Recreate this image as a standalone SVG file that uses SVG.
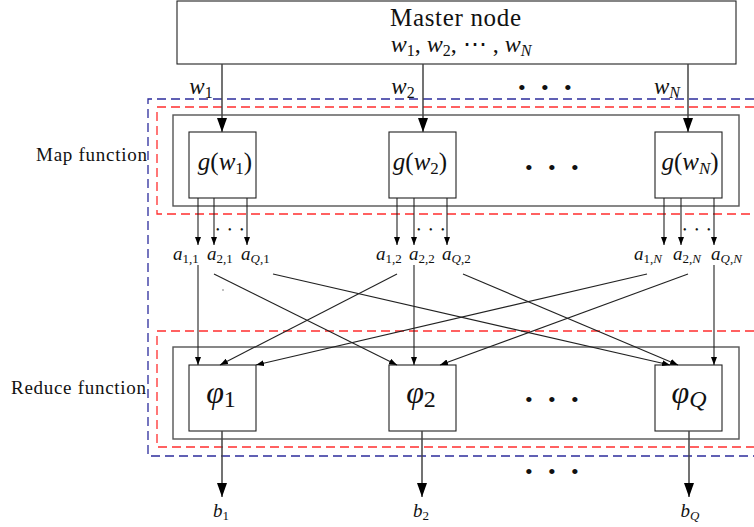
<svg xmlns="http://www.w3.org/2000/svg" width="754" height="527" viewBox="0 0 754 527">
<defs>
<style>
text{font-family:"Liberation Serif","Times New Roman",serif;fill:#111}
.i{font-style:italic}
.box{fill:#fff;stroke:#222;stroke-width:1.1}
.outer{fill:none;stroke:#555;stroke-width:1.4}
.ln{stroke:#222;stroke-width:1.1;fill:none}
.thick{stroke:#444;stroke-width:1.5;fill:none}
.blue{stroke:#2c2c9c;stroke-width:1.3;fill:none;stroke-dasharray:9 5}
.red{stroke:#ff2e2e;stroke-width:1.3;fill:none;stroke-dasharray:9 5}
.dots{font-size:22px;letter-spacing:15.3px}
.sdots{font-size:10px;letter-spacing:8.5px}
.al{font-size:19px}
.as{font-size:13px}
</style>
<marker id="big" markerUnits="userSpaceOnUse" markerWidth="14" markerHeight="10" refX="14" refY="5" orient="auto"><path d="M0,0 L14,5 L0,10 z" fill="#000"/></marker>
<marker id="sm" markerUnits="userSpaceOnUse" markerWidth="8" markerHeight="6" refX="8" refY="3" orient="auto"><path d="M0,0 L8,3 L0,6 z" fill="#000"/></marker>
</defs>
<rect width="754" height="527" fill="#fff"/>

<g id="regions">
<path class="blue" d="M754,99 H148 V456 H754"/>
<path class="red" d="M754,107 H157 V214 H754"/>
<path class="red" d="M754,331 H157 V447 H754"/>
</g>

<g id="master">
<rect class="box" x="177" y="1" width="559" height="63"/>
<text x="390" y="26" font-size="25" textLength="131" lengthAdjust="spacing">Master node</text>
<text x="461" y="52" font-size="24" text-anchor="middle"><tspan class="i">w</tspan><tspan font-size="16" dy="4">1</tspan><tspan dy="-4">, </tspan><tspan class="i">w</tspan><tspan font-size="16" dy="4">2</tspan><tspan dy="-4">, ⋯ , </tspan><tspan class="i">w</tspan><tspan class="i" font-size="16" dy="4">N</tspan></text>
</g>

<g id="map-function">
<rect class="outer" x="173" y="115" width="566" height="91"/>
<text x="36" y="161" font-size="19" textLength="111" lengthAdjust="spacing">Map function</text>
</g>

<g id="reduce-function">
<rect class="outer" x="173" y="347" width="566" height="92"/>
<text x="11" y="394" font-size="19" textLength="135" lengthAdjust="spacing">Reduce function</text>
</g>

<g id="g1">
<rect class="box" x="189" y="132" width="67" height="66"/>
<text x="225" y="170" font-size="25" text-anchor="middle"><tspan class="i">g</tspan>(<tspan class="i">w</tspan><tspan font-size="17" dy="4">1</tspan><tspan dy="-4">)</tspan></text>
</g>
<g id="g2">
<rect class="box" x="389" y="132" width="67" height="66"/>
<text x="420" y="170" font-size="25" text-anchor="middle"><tspan class="i">g</tspan>(<tspan class="i">w</tspan><tspan font-size="17" dy="4">2</tspan><tspan dy="-4">)</tspan></text>
</g>
<g id="gN">
<rect class="box" x="655" y="132" width="67" height="66"/>
<text x="690" y="170" font-size="25" text-anchor="middle"><tspan class="i">g</tspan>(<tspan class="i">w</tspan><tspan class="i" font-size="17" dy="4">N</tspan><tspan dy="-4">)</tspan></text>
</g>

<g id="phi1">
<rect class="box" x="189" y="365" width="67" height="66"/>
<text x="221" y="403" font-size="32" text-anchor="middle"><tspan class="i">φ</tspan><tspan font-size="24" dy="4">1</tspan></text>
</g>
<g id="phi2">
<rect class="box" x="389" y="365" width="67" height="66"/>
<text x="421" y="403" font-size="32" text-anchor="middle"><tspan class="i">φ</tspan><tspan font-size="24" dy="4">2</tspan></text>
</g>
<g id="phiQ">
<rect class="box" x="655" y="365" width="67" height="66"/>
<text x="689" y="403" font-size="32" text-anchor="middle"><tspan class="i">φ</tspan><tspan class="i" font-size="24" dy="4">Q</tspan></text>
</g>

<g id="labels">
<text x="201" y="94" font-size="23" text-anchor="middle"><tspan class="i">w</tspan><tspan font-size="16" dy="4">1</tspan></text>
<text x="403" y="94" font-size="23" text-anchor="middle"><tspan class="i">w</tspan><tspan font-size="16" dy="4">2</tspan></text>
<text x="667" y="94" font-size="23" text-anchor="middle"><tspan class="i">w</tspan><tspan class="i" font-size="16" dy="4">N</tspan></text>
<text class="dots" x="518" y="95">•••</text>
<text class="dots" x="525" y="175">•••</text>
<text class="dots" x="525" y="407">•••</text>
<text class="dots" x="525" y="479">•••</text>
<text class="sdots" x="216" y="233">•••</text>
<text class="sdots" x="417" y="233">•••</text>
<text class="sdots" x="683" y="233">•••</text>

<text class="al" x="173" y="260"><tspan class="i">a</tspan><tspan class="as" dy="3">1,1</tspan></text>
<text class="al" x="207" y="260"><tspan class="i">a</tspan><tspan class="as" dy="3">2,1</tspan></text>
<text class="al" x="241" y="260"><tspan class="i">a</tspan><tspan class="as" dy="3"><tspan class="i">Q</tspan>,1</tspan></text>
<text class="al" x="376" y="260"><tspan class="i">a</tspan><tspan class="as" dy="3">1,2</tspan></text>
<text class="al" x="409" y="260"><tspan class="i">a</tspan><tspan class="as" dy="3">2,2</tspan></text>
<text class="al" x="442" y="260"><tspan class="i">a</tspan><tspan class="as" dy="3"><tspan class="i">Q</tspan>,2</tspan></text>
<text class="al" x="634" y="260"><tspan class="i">a</tspan><tspan class="as" dy="3">1,<tspan class="i">N</tspan></tspan></text>
<text class="al" x="673" y="260"><tspan class="i">a</tspan><tspan class="as" dy="3">2,<tspan class="i">N</tspan></tspan></text>
<text class="al" x="711" y="260"><tspan class="i">a</tspan><tspan class="as" dy="3"><tspan class="i">Q</tspan>,<tspan class="i">N</tspan></tspan></text>

<text x="221" y="517" font-size="19" text-anchor="middle"><tspan class="i">b</tspan><tspan font-size="13" dy="3">1</tspan></text>
<text x="421" y="517" font-size="19" text-anchor="middle"><tspan class="i">b</tspan><tspan font-size="13" dy="3">2</tspan></text>
<text x="690" y="517" font-size="19" text-anchor="middle"><tspan class="i">b</tspan><tspan class="i" font-size="13" dy="3">Q</tspan></text>
<circle cx="223" cy="290" r="0.7" fill="#555"/>
</g>

<g id="connectors">
<line class="thick" x1="222" y1="64" x2="222" y2="132" marker-end="url(#big)"/>
<line class="thick" x1="423" y1="64" x2="423" y2="132" marker-end="url(#big)"/>
<line class="thick" x1="688" y1="64" x2="688" y2="132" marker-end="url(#big)"/>

<line class="ln" x1="198" y1="198" x2="198" y2="245" marker-end="url(#sm)"/>
<line class="ln" x1="214" y1="198" x2="214" y2="245" marker-end="url(#sm)"/>
<line class="ln" x1="247" y1="198" x2="247" y2="245" marker-end="url(#sm)"/>
<line class="ln" x1="397" y1="198" x2="397" y2="245" marker-end="url(#sm)"/>
<line class="ln" x1="414" y1="198" x2="414" y2="245" marker-end="url(#sm)"/>
<line class="ln" x1="447" y1="198" x2="447" y2="245" marker-end="url(#sm)"/>
<line class="ln" x1="664" y1="198" x2="664" y2="245" marker-end="url(#sm)"/>
<line class="ln" x1="681" y1="198" x2="681" y2="245" marker-end="url(#sm)"/>
<line class="ln" x1="714" y1="198" x2="714" y2="245" marker-end="url(#sm)"/>

<line class="ln" x1="198" y1="265" x2="198" y2="365" marker-end="url(#sm)"/>
<line class="ln" x1="397" y1="274" x2="220" y2="365" marker-end="url(#sm)"/>
<line class="ln" x1="647" y1="274" x2="256" y2="365" marker-end="url(#sm)"/>
<line class="ln" x1="214" y1="274" x2="397" y2="365" marker-end="url(#sm)"/>
<line class="ln" x1="414" y1="265" x2="414" y2="365" marker-end="url(#sm)"/>
<line class="ln" x1="688" y1="274" x2="440" y2="365" marker-end="url(#sm)"/>
<line class="ln" x1="273" y1="274" x2="670" y2="365" marker-end="url(#sm)"/>
<line class="ln" x1="463" y1="274" x2="678" y2="365" marker-end="url(#sm)"/>
<line class="ln" x1="714" y1="265" x2="714" y2="365" marker-end="url(#sm)"/>

<line class="thick" x1="222" y1="431" x2="222" y2="497" marker-end="url(#big)"/>
<line class="thick" x1="422" y1="431" x2="422" y2="497" marker-end="url(#big)"/>
<line class="thick" x1="689" y1="431" x2="689" y2="497" marker-end="url(#big)"/>
</g>
</svg>
